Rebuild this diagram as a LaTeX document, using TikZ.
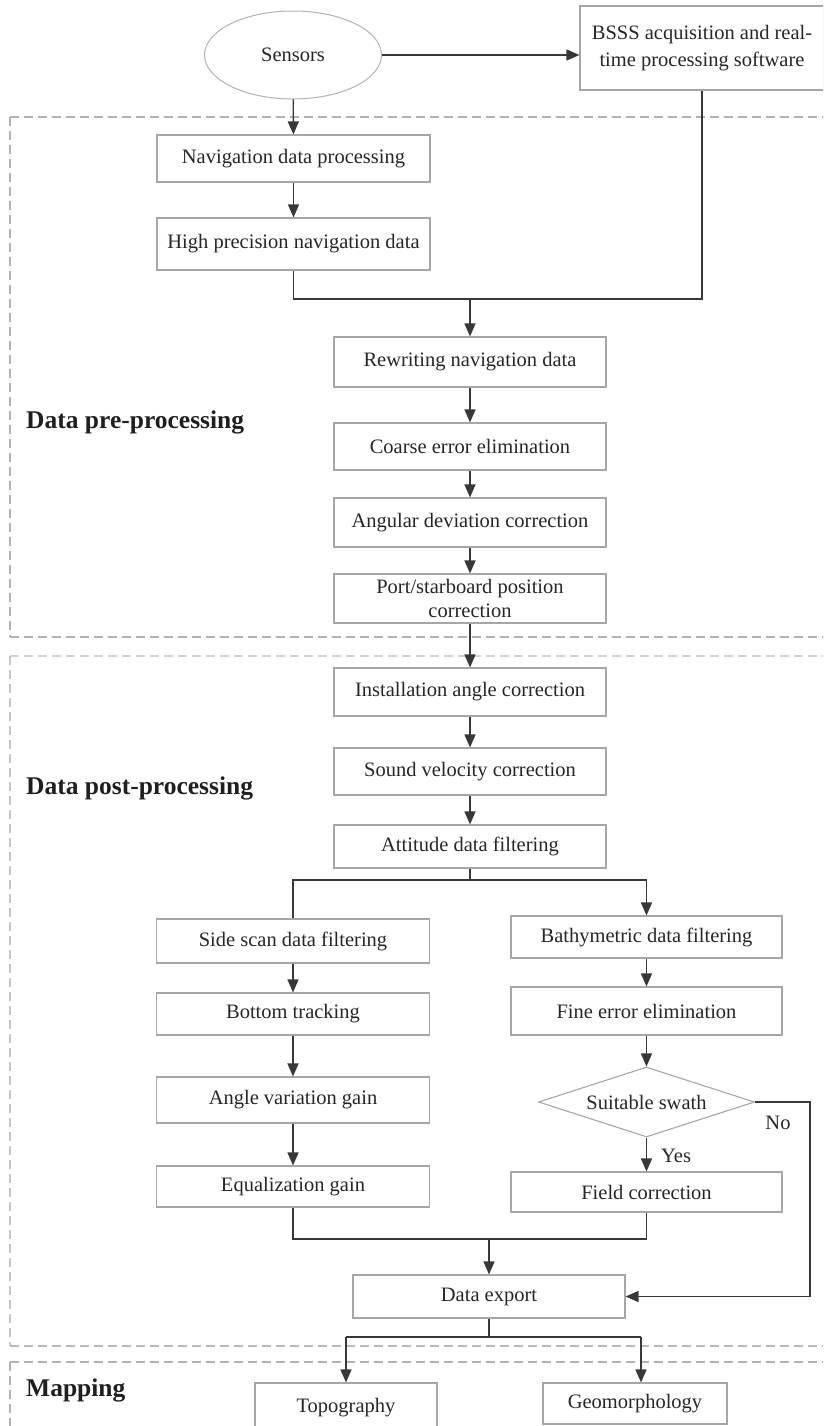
\documentclass[tikz,border=0pt]{standalone}
\usepackage{fontspec}
\setmainfont{Liberation Serif}
\usetikzlibrary{arrows.meta,shapes.geometric,calc}
\begin{document}
\begin{tikzpicture}[x=1pt,y=-1pt,
  box/.style={draw=gray!70, line width=1.1pt, fill=white, minimum width=273pt, minimum height=47pt, inner sep=2pt, font=\fontsize{20.5}{24}\selectfont, text=black!85, align=center},
  conn/.style={draw=black!78, line width=1.4pt},
  arr/.style={conn, -{Triangle[width=11pt,length=13pt]}},
  zoneh/.style={draw=gray!60, line width=2.2pt, dash pattern=on 9pt off 5pt},
  zonev/.style={draw=gray!60, line width=1.2pt, dash pattern=on 9pt off 5pt},
  lab/.style={font=\fontsize{25.5}{30}\selectfont\bfseries, anchor=west, inner sep=0pt, text=black!88},
  small/.style={font=\fontsize{20.5}{24}\selectfont, text=black!85, inner sep=0pt}
]
\clip (0,0) rectangle (823,1426);
\fill[white] (0,0) rectangle (823,1426);

% zones
\draw[zoneh] (10,117) -- (830,117);
\draw[zoneh] (10,637) -- (830,637);
\draw[zonev] (10,117) -- (10,637);
\draw[zoneh, draw=gray!35] (10,656) -- (830,656);
\draw[zoneh, draw=gray!55] (10,1346) -- (830,1346);
\draw[zonev, draw=gray!45] (10,656) -- (10,1346);
\draw[zoneh] (10,1362) -- (830,1362);
\draw[zonev] (10,1362) -- (10,1440);

% nodes
\node[ellipse, draw=gray!60, line width=1pt, minimum width=177pt, minimum height=88pt, font=\fontsize{20.5}{24}\selectfont, text=black!85] (sens) at (293,55) {Sensors};
\node[box, minimum width=244pt, minimum height=84pt, font=\fontsize{20.5}{27}\selectfont] (bsss) at (702,48) {BSSS acquisition and real-\\time processing software};

\node[box, minimum height=47pt] (nav) at (293.5,158.5) {Navigation data processing};
\node[box, minimum height=52pt] (hp) at (293.5,244) {High precision navigation data};
\node[box, minimum width=272pt, minimum height=50pt] (rew) at (470,362) {Rewriting navigation data};
\node[box, minimum width=272pt, minimum height=47pt] (coarse) at (470,446.5) {Coarse error elimination};
\node[box, minimum width=272pt, minimum height=49pt] (ang) at (470,522.5) {Angular deviation correction};
\node[box, minimum width=272pt, minimum height=49pt] (port) at (470,598.5) {Port/starboard position\\correction};
\node[box, minimum width=272pt, minimum height=48pt] (inst) at (470,692) {Installation angle correction};
\node[box, minimum width=272pt, minimum height=47pt] (sound) at (470,771.5) {Sound velocity correction};
\node[box, minimum width=272pt, minimum height=43pt] (att) at (470,846.5) {Attitude data filtering};

\node[box, minimum height=44pt] (side) at (293,941) {Side scan data filtering};
\node[box, minimum height=42pt] (bot) at (293,1014) {Bottom tracking};
\node[box, minimum height=46pt] (avg) at (293,1100) {Angle variation gain};
\node[box, minimum height=41pt] (eq) at (293,1186.5) {Equalization gain};

\node[box, minimum width=271pt, minimum height=42pt] (bath) at (646.5,937) {Bathymetric data filtering};
\node[box, minimum width=271pt, minimum height=48pt] (fine) at (646.5,1011) {Fine error elimination};
\node[diamond, draw=gray!70, line width=1.1pt, fill=white, aspect=3.09, inner sep=0pt, minimum width=216pt, minimum height=70pt, font=\fontsize{20.5}{24}\selectfont, text=black!85] (swath) at (646.5,1102) {Suitable swath};
\node[box, minimum width=271pt, minimum height=40pt] (field) at (646.5,1192) {Field correction};

\node[box, minimum width=272pt, minimum height=43pt] (exp) at (489,1296.5) {Data export};
\node[box, minimum width=182pt, minimum height=50pt] (topo) at (346,1408) {Topography};
\node[box, minimum width=184pt, minimum height=41pt] (geo) at (635,1403.5) {Geomorphology};

% labels
\node[lab] (l1) at (26,422) {Data pre-processing};
\node[lab] (l2) at (26,788) {Data post-processing};
\node[lab] (l3) at (26,1390) {Mapping};

% connectors
\draw[arr] (sens.east) -- (sens.east -| bsss.west);
\draw[arr] (sens) -- (nav);
\draw[arr] (nav) -- (hp);
\coordinate (m1) at (470,299);
\draw[conn] (hp.south) |- (bsss.south |- m1) -- (bsss.south);
\draw[arr] (m1) -- (rew);
\draw[arr] (rew) -- (coarse);
\draw[arr] (coarse) -- (ang);
\draw[arr] (ang) -- (port);
\draw[arr] (port) -- (inst);
\draw[arr] (inst) -- (sound);
\draw[arr] (sound) -- (att);
\coordinate (m2) at (470,880);
\draw[conn] (att.south) -- (m2);
\draw[arr] (side.north) |- (bath.north |- m2) -- (bath.north);
\draw[arr] (side) -- (bot);
\draw[arr] (bot) -- (avg);
\draw[arr] (avg) -- (eq);
\draw[arr] (bath) -- (fine);
\draw[arr] (fine) -- (swath);
\draw[arr] (swath) -- (field);
\node[small, anchor=west] (yes) at (661,1156) {Yes};
\coordinate (nr) at (810,1102);
\draw[arr] (swath.east) -- (nr) |- (exp.east);
\node[small] (no) at (778,1123) {No};
\coordinate (m3) at (489,1239);
\draw[conn] (eq.south) |- (field.south |- m3) -- (field.south);
\draw[arr] (m3) -- (exp);
\coordinate (m4) at (489,1337);
\coordinate (g4) at (641,1337);
\draw[conn] (exp.south) -- (m4);
\draw[conn] (topo.north |- m4) -- (g4);
\draw[arr] (topo.north |- m4) -- (topo.north);
\draw[arr] (g4) -- (g4 |- geo.north);
\end{tikzpicture}
\end{document}
